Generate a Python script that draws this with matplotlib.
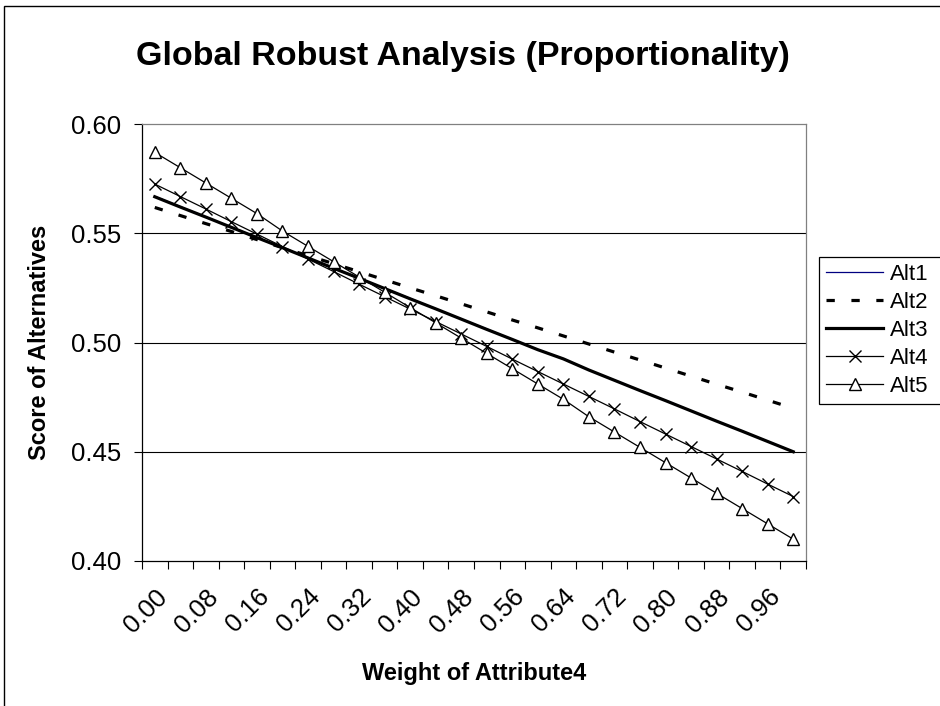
import matplotlib
matplotlib.use("Agg")
import matplotlib.pyplot as plt
from matplotlib.patches import Rectangle

plt.rcParams['font.family'] = ['Liberation Sans', 'DejaVu Sans']

# weights of Attribute4 (category axis)
weights = [0.00, 0.04, 0.08, 0.12, 0.16, 0.20, 0.24, 0.28, 0.32, 0.36, 0.40, 0.44, 0.48,
           0.52, 0.56, 0.60, 0.64, 0.68, 0.72, 0.76, 0.80, 0.84, 0.88, 0.92, 0.96, 1.00]

alt1 = [0.5669, 0.5622, 0.5575, 0.5528, 0.5481, 0.5435, 0.5388, 0.5341, 0.5295, 0.5248, 0.5202, 0.5155, 0.5108,
        0.5062, 0.5015, 0.4968, 0.4926, 0.4875, 0.4828, 0.4781, 0.4735, 0.4688, 0.4641, 0.4595, 0.4548, 0.4501]
alt2 = [0.5618, 0.5581, 0.5544, 0.5508, 0.5471, 0.5434, 0.5397, 0.5361, 0.5324, 0.5287, 0.5250, 0.5214, 0.5177,
        0.5140, 0.5103, 0.5067, 0.5030, 0.4993, 0.4956, 0.4920, 0.4883, 0.4846, 0.4809, 0.4773, 0.4736, 0.4699]
alt3 = [0.5667, 0.5620, 0.5574, 0.5527, 0.5480, 0.5434, 0.5387, 0.5340, 0.5294, 0.5247, 0.5200, 0.5154, 0.5107,
        0.5060, 0.5014, 0.4967, 0.4925, 0.4874, 0.4827, 0.4780, 0.4734, 0.4687, 0.4640, 0.4594, 0.4547, 0.4500]
alt4 = [0.5725, 0.5668, 0.5611, 0.5553, 0.5496, 0.5439, 0.5382, 0.5325, 0.5267, 0.5210, 0.5153, 0.5096, 0.5039,
        0.4982, 0.4924, 0.4867, 0.4810, 0.4753, 0.4696, 0.4638, 0.4581, 0.4524, 0.4467, 0.4410, 0.4352, 0.4295]
alt5 = [0.587, 0.580, 0.573, 0.566, 0.559, 0.551, 0.544, 0.537, 0.530, 0.523, 0.516, 0.509, 0.502,
        0.495, 0.488, 0.481, 0.474, 0.466, 0.459, 0.452, 0.445, 0.438, 0.431, 0.424, 0.417, 0.410]

yticks = [0.40, 0.45, 0.50, 0.55, 0.60]

W, H = 940, 706
fig = plt.figure(figsize=(W / 100, H / 100), dpi=100)
ax = fig.add_axes([142 / W, 1 - 561 / H, (806 - 142) / W, (561 - 124) / H])

x = list(range(len(weights)))
for yv in yticks[1:-1]:
    ax.axhline(yv, color='black', lw=0.8, zorder=1)

ax.plot(x, alt1, color='#000080', lw=0.9, label='Alt1', zorder=2)
ax.plot(x, alt2, color='black', lw=2.3, dashes=(2.6, 5.2), label='Alt2', zorder=3)
ax.plot(x, alt3, color='black', lw=2.3, label='Alt3', zorder=3)
ax.plot(x, alt4, color='black', lw=0.9, marker='x', ms=8, mew=1.0, label='Alt4', zorder=4)
ax.plot(x, alt5, color='black', lw=0.9, marker='^', ms=9, mfc='white', mew=1.0, label='Alt5', zorder=5)

ax.set_xlim(-0.5, len(weights) - 0.5)
ax.set_ylim(0.40, 0.60)
ax.set_yticks(yticks)
ax.set_yticklabels(['%.2f' % v for v in yticks])
ax.tick_params(axis='y', direction='out', length=6, width=0.8, labelsize=18.5, pad=9)

# tick marks on category boundaries, labels on every second category
ax.set_xticks([i - 0.5 for i in range(len(weights) + 1)])
ax.set_xticklabels([])
ax.set_xticks(x[::2], minor=True)
ax.set_xticklabels(['%.2f' % w for w in weights[::2]], minor=True,
                   rotation=45, ha='right', va='top', rotation_mode='anchor', fontsize=18.5)
ax.tick_params(axis='x', which='major', direction='out', length=6, width=0.8)
ax.tick_params(axis='x', which='minor', length=0, pad=17)

ax.spines['top'].set_color('#808080')
ax.spines['right'].set_color('#808080')
for s in ax.spines.values():
    s.set_linewidth(0.9)

ax.set_ylabel('Score of Alternatives', fontsize=17, fontweight='bold', labelpad=14)
ax.set_xlabel('Weight of Attribute4', fontsize=17, fontweight='bold', labelpad=18)
fig.text(463 / W, 1 - 57 / H, 'Global Robust Analysis (Proportionality)',
         fontsize=24.5, fontweight='bold', ha='center', va='center')

# legend box runs past the right edge, as in the original
leg = fig.legend(loc='upper left', bbox_to_anchor=(819 / W, 0, 0.2, 1 - 257 / H), mode='expand',
                 fontsize=16, frameon=True, fancybox=False, edgecolor='black', framealpha=1,
                 handlelength=2.6, handletextpad=0.3, labelspacing=0.32, borderpad=0.3,
                 borderaxespad=0)
leg.get_frame().set_linewidth(0.9)

# outer chart border (cut off at right and bottom in the original)
fig.patches.append(Rectangle((4 / W, -0.1), 1.2, 1.1 - 6 / H, transform=fig.transFigure,
                             fill=False, edgecolor='black', lw=1.0))

fig.savefig('out.png', dpi=100)
